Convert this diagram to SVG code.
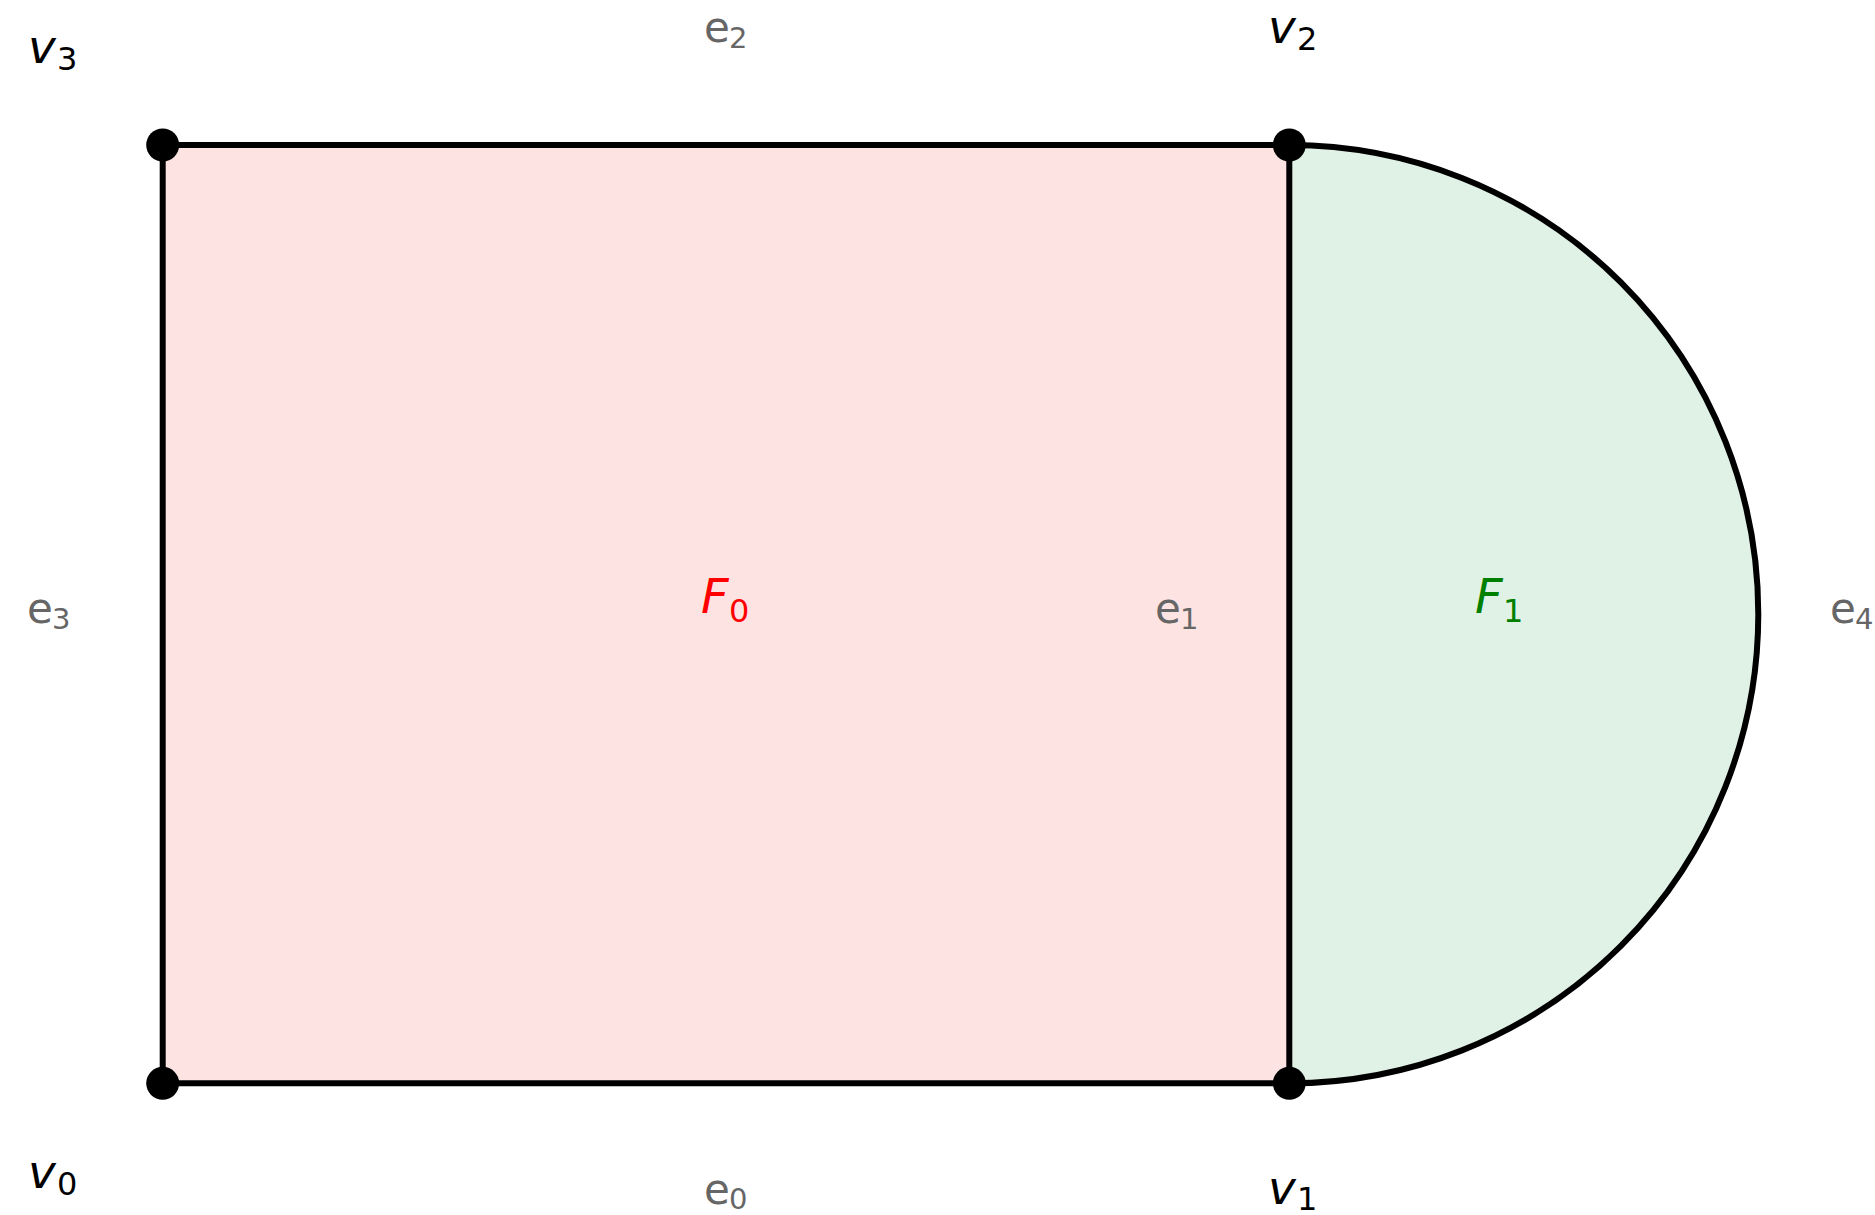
<svg xmlns="http://www.w3.org/2000/svg" width="1875" height="1215" viewBox="0 0 1875 1215">
<style>
.edge{fill:none;stroke:#000;stroke-width:6;stroke-linejoin:round}
.vlab{font-family:"DejaVu Sans",sans-serif;font-size:47px;font-style:italic;fill:#000}
.flab{font-family:"DejaVu Sans",sans-serif;font-size:48px;font-style:italic}
.sub{font-style:normal;font-size:32px}
.elab{font-family:"DejaVu Sans",sans-serif;font-size:42px;fill:#666}
.esub{font-size:29px}
.dot{fill:#000}
</style>
<rect width="1875" height="1215" fill="#fff"/>
<g id="faces">
<g id="F0"><rect x="162.7" y="145" width="1126.6" height="938.3" fill="#fde3e1"/>
<text class="flab" x="701" y="613" fill="#ff0000">F<tspan class="sub" x="729" y="622">0</tspan></text></g>
<g id="F1"><path d="M1289.3 145 A469 469.15 0 0 1 1289.3 1083.3 Z" fill="#e0f1e6"/>
<text class="flab" x="1475" y="613" fill="#008000">F<tspan class="sub" x="1503" y="622">1</tspan></text></g>
</g>
<g id="connectors">
<path id="e0" class="edge" d="M162.7 1083.3 H1289.3"/>
<path id="e1" class="edge" d="M1289.3 1083.3 V145"/>
<path id="e2" class="edge" d="M1289.3 145 H162.7"/>
<path id="e3" class="edge" d="M162.7 145 V1083.3"/>
<path id="e4" class="edge" d="M1289.3 145 A469 469.15 0 0 1 1289.3 1083.3"/>
</g>
<g id="edge-labels">
<text class="elab" x="704" y="42">e<tspan class="esub" x="729" y="48">2</tspan></text>
<text class="elab" x="27" y="623">e<tspan class="esub" x="52" y="629">3</tspan></text>
<text class="elab" x="1155" y="623">e<tspan class="esub" x="1180" y="629">1</tspan></text>
<text class="elab" x="1830" y="623">e<tspan class="esub" x="1855" y="629">4</tspan></text>
<text class="elab" x="704" y="1204">e<tspan class="esub" x="729" y="1209">0</tspan></text>
</g>
<g id="v0"><circle class="dot" cx="162.7" cy="1083.3" r="16.5"/><text class="vlab" x="28" y="1188">v<tspan class="sub" x="57" y="1195">0</tspan></text></g>
<g id="v1"><circle class="dot" cx="1289.3" cy="1083.3" r="16.5"/><text class="vlab" x="1268" y="1204">v<tspan class="sub" x="1297" y="1210">1</tspan></text></g>
<g id="v2"><circle class="dot" cx="1289.3" cy="145" r="16.5"/><text class="vlab" x="1268" y="43">v<tspan class="sub" x="1297" y="50">2</tspan></text></g>
<g id="v3"><circle class="dot" cx="162.7" cy="145" r="16.5"/><text class="vlab" x="28" y="63">v<tspan class="sub" x="57" y="70">3</tspan></text></g>
</svg>
